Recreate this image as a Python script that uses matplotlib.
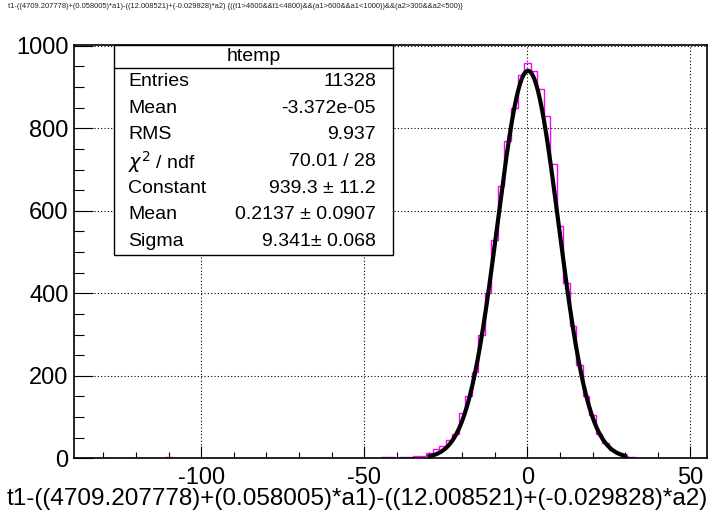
#!/usr/bin/env python3
"""ROOT-style residual histogram with gaussian fit and stats box."""

import numpy as np
import matplotlib
matplotlib.use('Agg')
import matplotlib.pyplot as plt
from matplotlib.ticker import MultipleLocator

plt.rcParams['font.family'] = ['Liberation Sans', 'DejaVu Sans']
plt.rcParams['axes.unicode_minus'] = False

# ── Data ─────────────────────────────────────────────────────────────────────
BIN_LO, BIN_HI, BIN_W = -139, 55, 2          # histogram range / bin width
bin_centers = [-110,
               -44, -42, -40, -38, -36, -34, -32, -30, -28, -26, -24, -22,
               -20, -18, -16, -14, -12, -10, -8, -6, -4, -2, 0,
               2, 4, 6, 8, 10, 12, 14, 16, 18, 20, 22, 24, 26, 28, 30, 32]
bin_counts = [2,
              2, 2, 1, 4, 4, 5, 6, 14, 22, 30, 45, 60,
              110, 150, 210, 300, 400, 530, 660, 770, 850, 928, 958,
              939, 894, 829, 714, 563, 425, 320, 225, 150, 105, 60, 38, 20, 12, 6, 3]

# gaussian fit parameters (from the stats box)
fit_const, fit_mean, fit_sigma = 939.3, 0.2137, 9.341
fit_range = (-30, 30)

stats_rows = [
    ('Entries', '11328'),
    ('Mean', '-3.372e-05'),
    ('RMS', '9.937'),
    (r'$\chi^{2}$ / ndf', '70.01 / 28'),
    ('Constant', '939.3 ± 11.2'),
    ('Mean', '0.2137 ± 0.0907'),
    ('Sigma', '9.341± 0.068'),
]

title = ('t1-((4709.207778)+(0.058005)*a1)-((12.008521)+(-0.029828)*a2) '
         '{((t1>4600&&t1<4800)&&(a1>600&&a1<1000))&&(a2>300&&a2<500)}')
xlabel = 't1-((4709.207778)+(0.058005)*a1)-((12.008521)+(-0.029828)*a2)'

# ── Build histogram ──────────────────────────────────────────────────────────
edges = np.arange(BIN_LO, BIN_HI + BIN_W / 2, BIN_W)
counts = np.zeros(len(edges) - 1)
for c, n in zip(bin_centers, bin_counts):
    counts[int((c - BIN_LO) // BIN_W)] = n

# ── Figure ───────────────────────────────────────────────────────────────────
fig = plt.figure(figsize=(7.11, 5.12), dpi=100)
ax = fig.add_axes([74 / 711, 1 - 458.3 / 512, (706.7 - 74) / 711, (458.3 - 44.5) / 512])

ax.set_xlim(BIN_LO, BIN_HI)
ax.set_ylim(0, 1003)

ax.grid(True, which='major', color='black', linestyle=(0, (1, 2)), linewidth=0.8)
ax.set_axisbelow(True)

ax.stairs(counts, edges, color='#ff00ff', linewidth=1.0, zorder=2)

xf = np.linspace(fit_range[0], fit_range[1], 400)
ax.plot(xf, fit_const * np.exp(-0.5 * ((xf - fit_mean) / fit_sigma) ** 2),
        color='black', linewidth=3.0, zorder=3)

# axes / ticks
for s in ax.spines.values():
    s.set_linewidth(1.2)
    s.set_zorder(4)
ax.xaxis.set_major_locator(MultipleLocator(50))
ax.xaxis.set_minor_locator(MultipleLocator(10))
ax.yaxis.set_major_locator(MultipleLocator(200))
ax.yaxis.set_minor_locator(MultipleLocator(50))
ax.tick_params(axis='x', which='major', direction='in', length=8.6, width=0.8,
               labelsize=17, pad=6, top=False)
ax.tick_params(axis='x', which='minor', direction='in', length=4.3, width=0.8, top=False)
ax.tick_params(axis='y', which='major', direction='in', length=13.7, width=0.8,
               labelsize=17, pad=4, right=False)
ax.tick_params(axis='y', which='minor', direction='in', length=7, width=0.8, right=False)

# x-axis title, centred on the canvas like ROOT does here
fig.text(357 / 711, 1 - 499 / 512, xlabel, fontsize=17.5, ha='center', va='center')

# title
fig.text(8 / 711, 1 - 7 / 512, title, fontsize=5.4, ha='left', va='center', color='#222222')

# ── Stats box ────────────────────────────────────────────────────────────────
bx0, bx1 = 114 / 711, 392.7 / 711
by_top, by_hdr, by_bot = 1 - 44.5 / 512, 1 - 68.3 / 512, 1 - 255 / 512
box = plt.Rectangle((bx0, by_bot), bx1 - bx0, by_top - by_bot, transform=fig.transFigure,
                    facecolor='white', edgecolor='black', linewidth=1.0, zorder=10)
fig.add_artist(box)
fig.add_artist(plt.Line2D([bx0, bx1], [by_hdr, by_hdr], transform=fig.transFigure,
                          color='black', linewidth=1.0, zorder=11))
fig.text((bx0 + bx1) / 2, (by_top + by_hdr) / 2, 'htemp', fontsize=14, ha='center',
         va='center', zorder=12)
row_h = (by_hdr - by_bot) / len(stats_rows)
for i, (name, val) in enumerate(stats_rows):
    y = by_hdr - row_h * (i + 0.5)
    fig.text(128 / 711, y, name, fontsize=14, ha='left', va='center', zorder=12)
    fig.text(376 / 711, y, val, fontsize=14, ha='right', va='center', zorder=12)

fig.savefig('out.png', dpi=100)
